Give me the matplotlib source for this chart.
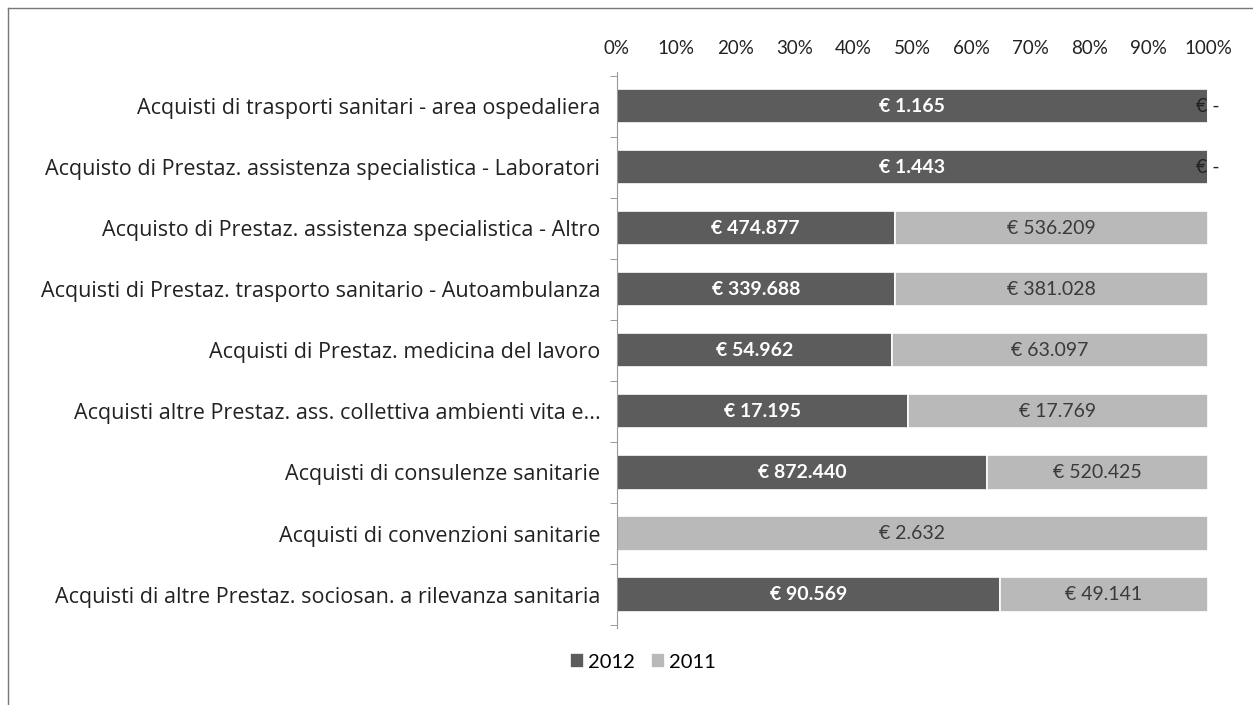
import matplotlib.pyplot as plt
from matplotlib.lines import Line2D
import numpy as np

plt.rcParams['font.family'] = ['Lato', 'DejaVu Sans']

categorie = [
    "Acquisti di trasporti sanitari - area ospedaliera",
    "Acquisto di Prestaz. assistenza specialistica - Laboratori",
    "Acquisto di Prestaz. assistenza specialistica - Altro",
    "Acquisti di Prestaz. trasporto sanitario - Autoambulanza",
    "Acquisti di Prestaz. medicina del lavoro",
    "Acquisti altre Prestaz. ass. collettiva ambienti vita e...",
    "Acquisti di consulenze sanitarie",
    "Acquisti di convenzioni sanitarie",
    "Acquisti di altre Prestaz. sociosan. a rilevanza sanitaria",
]
v2012 = [1165, 1443, 474877, 339688, 54962, 17195, 872440, 0, 90569]
v2011 = [0, 0, 536209, 381028, 63097, 17769, 520425, 2632, 49141]
ticks_pct = ["0%", "10%", "20%", "30%", "40%", "50%", "60%", "70%", "80%", "90%", "100%"]

a = np.array(v2012, dtype=float)
b = np.array(v2011, dtype=float)
tot = a + b
p12 = a / tot
p11 = b / tot


def euro(v):
    if v == 0:
        return "€ -"
    return "€ " + f"{int(v):,}".replace(",", ".")


fig = plt.figure(figsize=(12.53, 7.05), dpi=100)
ax = fig.add_axes([0.4924, 0.109, 0.4716, 0.789])

y = np.arange(len(categorie))
dark = "#5c5c5c"
light = "#b9b9b9"
h = 0.56
ax.barh(y, p12, height=h, color=dark, edgecolor="white", linewidth=1.2, label="2012")
ax.barh(y, p11, left=p12, height=h, color=light, edgecolor="white", linewidth=1.2, label="2011")

for i in range(len(categorie)):
    if a[i] > 0:
        ax.text(p12[i] / 2, y[i], euro(a[i]), ha="center", va="center",
                color="white", fontsize=14, fontweight="bold")
    if b[i] > 0:
        ax.text(p12[i] + p11[i] / 2, y[i], euro(b[i]), ha="center", va="center",
                color="#3a3a3a", fontsize=14)
    else:
        ax.text(1.0, y[i], euro(b[i]), ha="center", va="center",
                color="#222222", fontsize=14)

ax.set_xlim(0, 1)
ax.set_ylim(len(categorie) - 0.45, -0.56)
ax.xaxis.tick_top()
ax.set_xticks(np.linspace(0, 1, 11))
ax.set_xticklabels(ticks_pct, fontsize=13.5, color="#222222")
ax.tick_params(axis="x", length=0, pad=11)
ax.set_yticks(y)
ax.set_yticklabels(categorie, fontsize=15.5, color="#222222", family="Open Sans")
ax.tick_params(axis="y", length=0, pad=12)
ax.set_yticks(np.arange(len(categorie) + 1) - 0.5, minor=True)
ax.tick_params(axis="y", which="minor", length=5, color="#888888")

for s in ["top", "right", "bottom"]:
    ax.spines[s].set_visible(False)
ax.spines["left"].set_color("#999999")
ax.spines["left"].set_linestyle((0, (1, 1)))

fig.legend(loc="center", bbox_to_anchor=(0.513, 0.061), ncol=2, frameon=False,
           fontsize=14.5, handlelength=0.7, handleheight=0.7, handletextpad=0.2,
           columnspacing=0.8)

# bordo della pagina scansionata
fig.add_artist(Line2D([0.0064, 0.0064], [0.0, 0.989], color="#777777", lw=1))
fig.add_artist(Line2D([0.0064, 1.0], [0.989, 0.989], color="#777777", lw=1))

fig.savefig("out.png", dpi=100)
